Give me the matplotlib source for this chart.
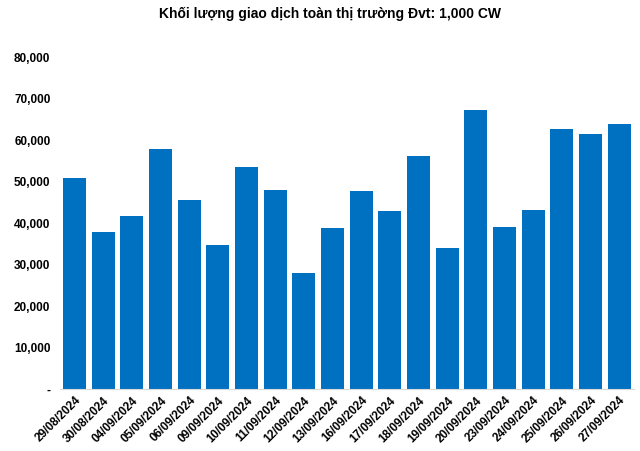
import matplotlib.pyplot as plt
from matplotlib.ticker import FuncFormatter

dates = ['29/08/2024', '30/08/2024', '04/09/2024', '05/09/2024', '06/09/2024',
         '09/09/2024', '10/09/2024', '11/09/2024', '12/09/2024', '13/09/2024',
         '16/09/2024', '17/09/2024', '18/09/2024', '19/09/2024', '20/09/2024',
         '23/09/2024', '24/09/2024', '25/09/2024', '26/09/2024', '27/09/2024']
volume = [50860, 37860, 41710, 57830, 45560, 34730, 53500, 47970, 27990, 38820,
          47730, 42910, 56150, 34010, 67220, 39060, 43150, 62650, 61440, 63850]
yticks = [0, 10000, 20000, 30000, 40000, 50000, 60000, 70000, 80000]

plt.rcParams['font.family'] = ['Liberation Sans', 'DejaVu Sans']

fig = plt.figure(figsize=(6.4, 4.51), dpi=100)
ax = fig.add_axes([0.094, 0.1375, 0.896, 0.736])

x = range(len(dates))
ax.bar(x, volume, width=0.8, color='#0070C0')

ax.set_xlim(-0.5, len(dates) - 0.5)
ax.set_ylim(0, 80000)
ax.set_yticks(yticks)
ax.yaxis.set_major_formatter(FuncFormatter(lambda v, p: '-' if v == 0 else f'{v:,.0f}'))
ax.set_xticks(list(x))
ax.set_xticklabels(dates, rotation=45, ha='right', rotation_mode='anchor')

for lbl in ax.get_xticklabels() + ax.get_yticklabels():
    lbl.set_fontweight('bold')
    lbl.set_fontsize(8.5)

for s in ['top', 'right', 'left']:
    ax.spines[s].set_visible(False)
ax.spines['bottom'].set_color('#D9D9D9')
ax.tick_params(axis='both', length=0)
ax.tick_params(axis='y', pad=7)
ax.tick_params(axis='x', pad=4)

fig.suptitle('Khối lượng giao dịch toàn thị trường Đvt: 1,000 CW',
             fontsize=10, fontweight='bold', x=0.515, y=0.985)

fig.savefig('out.png', dpi=100)
